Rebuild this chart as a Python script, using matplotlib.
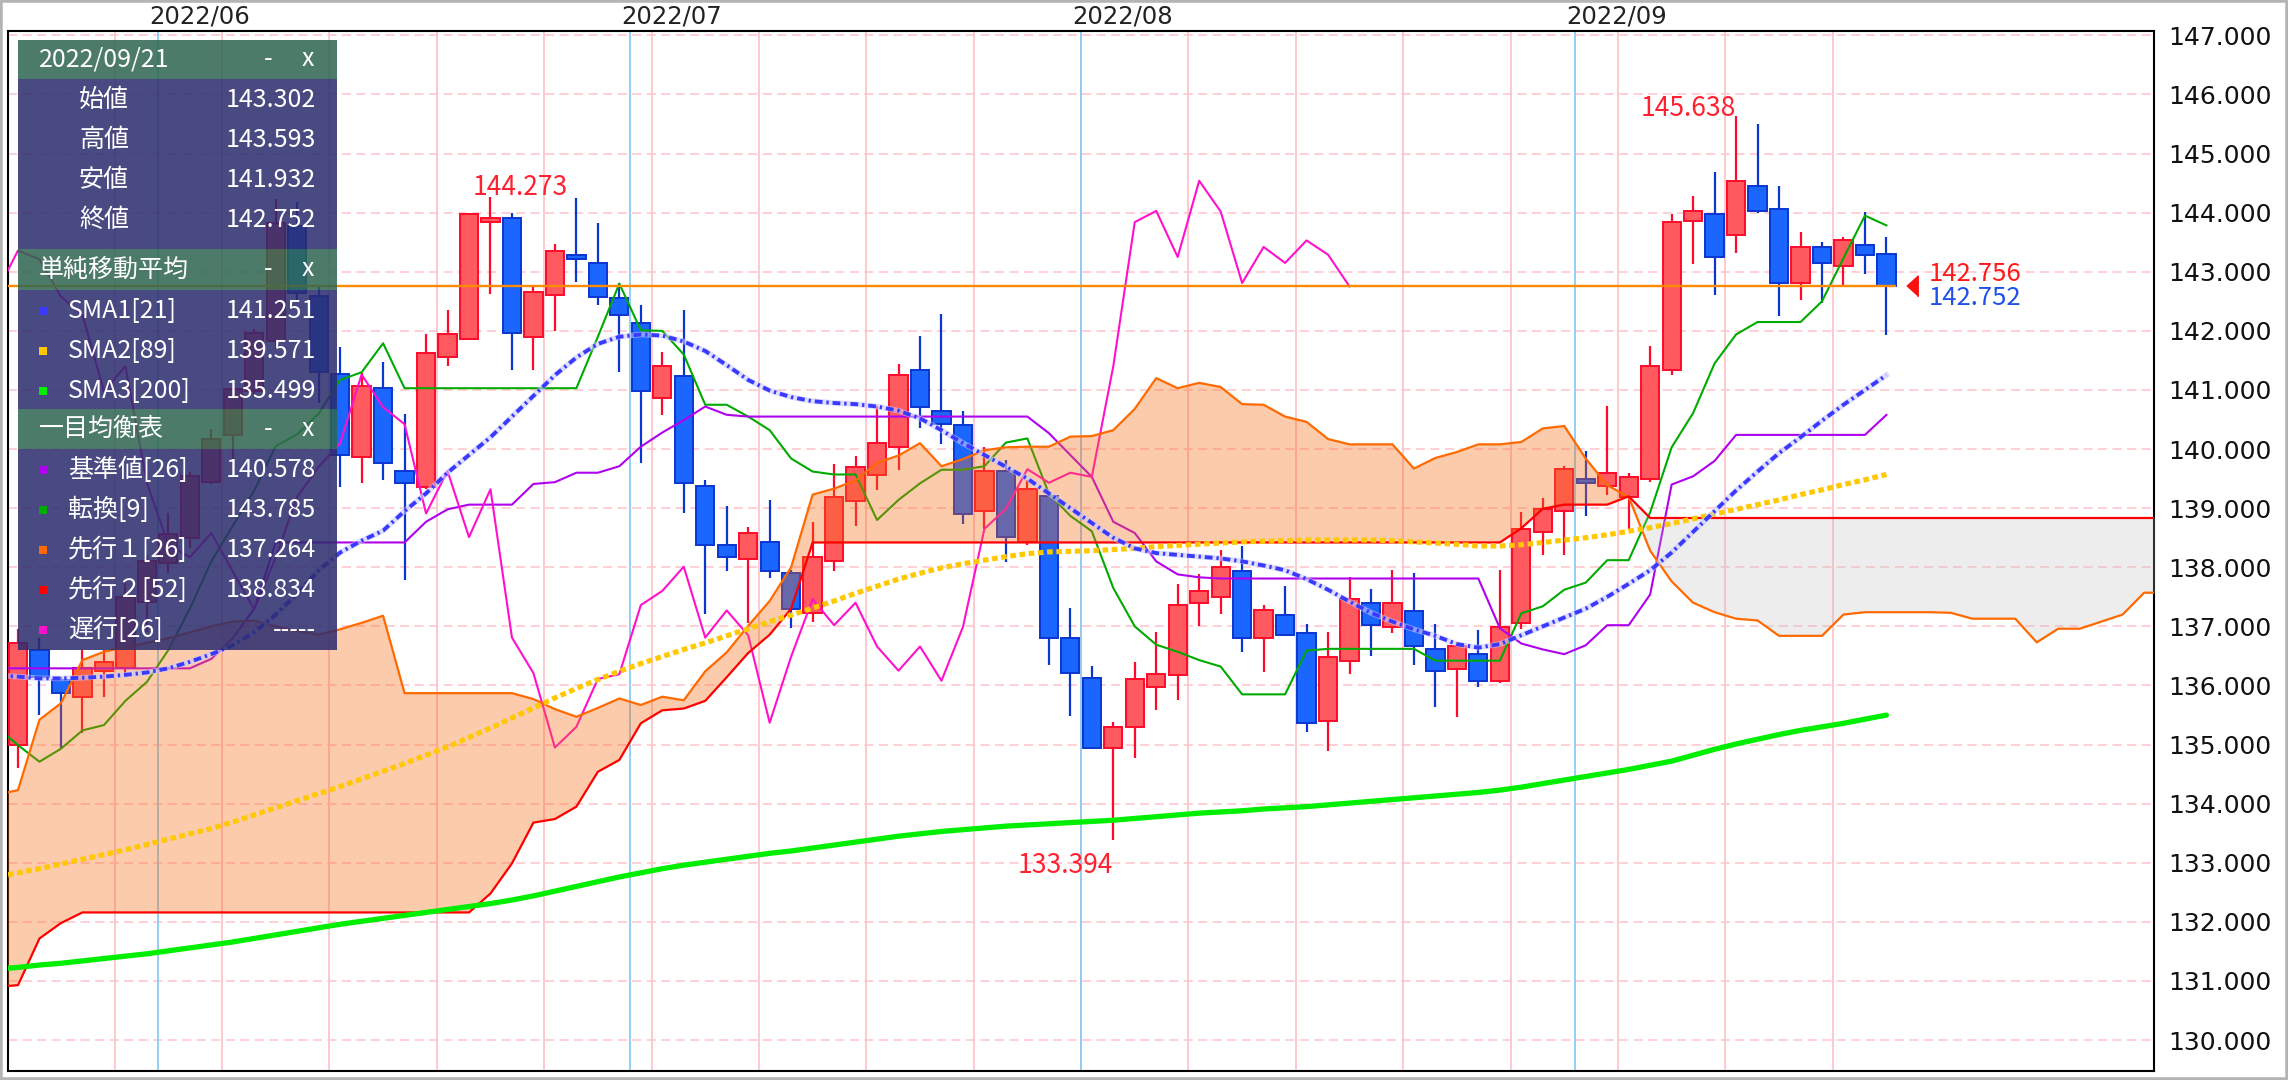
import matplotlib.pyplot as plt
import matplotlib.transforms as mtransforms
from matplotlib.patches import Rectangle
import numpy as np
import pandas as pd

plt.rcParams['font.family'] = ['Noto Sans CJK JP', 'DejaVu Sans']

# ---- daily candles, 2022/05/23 .. 2022/09/21 ----
dates = pd.bdate_range('2022-05-23', periods=88)
opens = [135.00, 136.60, 136.09, 135.81, 136.25, 136.30, 137.41, 138.07, 138.49, 139.44,
         140.23, 140.99, 141.83, 143.77, 142.59, 141.27, 139.87, 141.03, 139.63, 139.36,
         141.56, 141.87, 143.85, 143.91, 141.90, 142.61, 143.29, 143.15, 142.55, 142.14,
         140.86, 141.23, 139.37, 138.38, 138.14, 138.42, 137.91, 137.22, 138.10, 139.12,
         139.56, 140.03, 141.33, 140.64, 140.41, 138.95, 139.63, 138.42, 139.20, 136.80,
         136.12, 134.95, 135.29, 135.97, 136.18, 137.39, 137.49, 137.94, 136.81, 137.20,
         136.89, 135.40, 136.41, 137.40, 136.99, 137.26, 136.62, 136.28, 136.53, 136.08,
         137.06, 138.59, 138.95, 139.49, 139.37, 139.19, 139.50, 141.34, 143.86, 143.97,
         143.62, 144.45, 144.06, 142.81, 143.42, 143.10, 143.46, 143.302]
highs = [136.95, 136.80, 136.15, 136.60, 136.60, 137.75, 138.20, 138.92, 139.62, 140.34,
         141.05, 142.04, 144.23, 144.18, 142.74, 141.72, 141.28, 141.47, 140.60, 141.94,
         142.35, 144.00, 144.273, 143.99, 142.76, 143.47, 144.25, 143.83, 142.81, 142.43,
         141.64, 142.35, 139.48, 139.03, 138.69, 139.13, 137.95, 138.76, 139.74, 139.88,
         140.73, 141.44, 141.92, 142.29, 140.65, 140.04, 139.81, 139.47, 139.25, 137.31,
         136.33, 135.38, 136.39, 136.90, 137.71, 137.88, 138.29, 138.36, 137.37, 137.68,
         137.04, 136.90, 137.84, 137.64, 137.95, 137.91, 137.04, 136.73, 136.94, 137.95,
         138.93, 139.17, 139.71, 139.97, 140.73, 139.60, 141.74, 143.98, 144.28, 144.69,
         145.638, 145.50, 144.45, 143.67, 143.51, 143.59, 144.01, 143.593]
lows = [134.60, 135.50, 134.95, 135.19, 135.81, 136.20, 136.90, 137.90, 138.32, 139.41,
        139.62, 140.90, 141.70, 142.53, 140.78, 139.35, 139.42, 139.48, 137.79, 139.32,
        141.41, 141.85, 142.63, 141.34, 141.34, 141.99, 142.83, 142.43, 141.31, 139.76,
        140.57, 138.92, 137.21, 137.93, 137.05, 137.82, 136.98, 137.08, 137.93, 138.70,
        139.31, 139.65, 140.36, 140.09, 138.73, 138.65, 138.09, 138.37, 136.34, 135.49,
        134.93, 133.394, 134.78, 135.59, 135.75, 137.00, 137.21, 136.57, 136.23, 136.84,
        135.22, 134.89, 136.20, 136.50, 136.88, 136.34, 135.63, 135.46, 135.97, 136.04,
        136.95, 138.20, 138.20, 138.87, 139.22, 138.64, 139.45, 141.25, 143.14, 142.60,
        143.31, 143.99, 142.26, 142.53, 142.48, 142.77, 142.97, 141.932]
closes = [136.72, 136.15, 135.87, 136.29, 136.39, 137.50, 138.11, 138.56, 139.55, 140.17,
          141.02, 141.97, 143.83, 142.64, 141.30, 139.90, 141.07, 139.77, 139.43, 141.63,
          141.94, 143.97, 143.91, 141.96, 142.65, 143.36, 143.21, 142.58, 142.27, 140.98,
          141.40, 139.43, 138.38, 138.17, 138.58, 137.93, 137.29, 138.17, 139.19, 139.70,
          140.10, 141.26, 140.71, 140.42, 138.91, 139.63, 138.51, 139.32, 136.81, 136.21,
          134.95, 135.30, 136.11, 136.19, 137.36, 137.60, 138.01, 136.81, 137.27, 136.85,
          135.37, 136.49, 137.46, 137.02, 137.40, 136.66, 136.25, 136.66, 136.08, 136.99,
          138.65, 138.99, 139.66, 139.43, 139.60, 139.53, 141.40, 143.84, 144.03, 143.25,
          144.54, 144.02, 142.81, 143.42, 143.15, 143.53, 143.29, 142.752]

# ---- indicator lines, first value sits one bar left of the first candle ----
sma1 = [136.17, 136.15, 136.12, 136.12, 136.13, 136.15, 136.18, 136.22, 136.29, 136.40,
        136.53, 136.68, 136.90, 137.20, 137.55, 137.95, 138.25, 138.45, 138.62, 138.95,
        139.25, 139.60, 139.90, 140.20, 140.55, 140.90, 141.25, 141.55, 141.78, 141.90,
        141.94, 141.92, 141.82, 141.66, 141.42, 141.17, 140.99, 140.88, 140.81, 140.78,
        140.76, 140.72, 140.65, 140.52, 140.32, 140.10, 139.90, 139.70, 139.50, 139.25,
        139.00, 138.75, 138.50, 138.32, 138.24, 138.21, 138.18, 138.15, 138.10, 138.03,
        137.95, 137.80, 137.62, 137.42, 137.23, 137.08, 136.95, 136.84, 136.70, 136.64,
        136.70, 136.85, 137.00, 137.15, 137.30, 137.50, 137.72, 137.95, 138.25, 138.60,
        138.95, 139.30, 139.62, 139.93, 140.20, 140.48, 140.75, 141.00, 141.251]
sma2 = [132.76, 132.83, 132.90, 132.98, 133.06, 133.14, 133.22, 133.31, 133.40, 133.49,
        133.58, 133.69, 133.81, 133.93, 134.05, 134.17, 134.29, 134.42, 134.55, 134.68,
        134.82, 134.96, 135.12, 135.28, 135.45, 135.62, 135.79, 135.95, 136.10, 136.24,
        136.37, 136.49, 136.61, 136.72, 136.84, 136.96, 137.08, 137.19, 137.31, 137.43,
        137.56, 137.68, 137.80, 137.90, 137.99, 138.06, 138.12, 138.18, 138.23, 138.26,
        138.27, 138.28, 138.30, 138.32, 138.35, 138.37, 138.39, 138.41, 138.43, 138.44,
        138.45, 138.46, 138.46, 138.46, 138.46, 138.45, 138.43, 138.41, 138.39, 138.36,
        138.36, 138.38, 138.42, 138.46, 138.50, 138.55, 138.61, 138.67, 138.74, 138.82,
        138.90, 138.98, 139.06, 139.14, 139.23, 139.31, 139.40, 139.48, 139.571]
sma3 = [131.20, 131.23, 131.27, 131.30, 131.34, 131.38, 131.42, 131.46, 131.51, 131.56,
        131.61, 131.66, 131.72, 131.78, 131.84, 131.90, 131.96, 132.01, 132.06, 132.11,
        132.16, 132.21, 132.26, 132.31, 132.37, 132.44, 132.52, 132.60, 132.68, 132.76,
        132.83, 132.90, 132.96, 133.01, 133.06, 133.11, 133.16, 133.20, 133.25, 133.30,
        133.35, 133.40, 133.45, 133.49, 133.53, 133.56, 133.59, 133.62, 133.64, 133.66,
        133.68, 133.70, 133.72, 133.75, 133.78, 133.81, 133.84, 133.86, 133.88, 133.91,
        133.93, 133.95, 133.98, 134.01, 134.04, 134.07, 134.10, 134.13, 134.16, 134.19,
        134.23, 134.28, 134.34, 134.40, 134.46, 134.52, 134.58, 134.65, 134.72, 134.82,
        134.92, 135.01, 135.09, 135.17, 135.24, 135.30, 135.36, 135.43, 135.499]
tenkan = [135.30, 134.99, 134.71, 134.93, 135.24, 135.33, 135.74, 136.06, 136.60, 137.30,
          138.10, 138.70, 139.30, 140.05, 140.25, 140.60, 141.17, 141.30, 141.79, 141.03,
          141.03, 141.03, 141.03, 141.03, 141.03, 141.03, 141.03, 141.03, 141.90, 142.80,
          142.01, 142.00, 141.60, 140.75, 140.75, 140.55, 140.32, 139.84, 139.62, 139.57,
          139.57, 138.80, 139.14, 139.42, 139.65, 139.65, 139.71, 140.11, 140.18, 139.25,
          138.87, 138.61, 137.65, 137.00, 136.69, 136.57, 136.43, 136.32, 135.85, 135.85,
          135.85, 136.59, 136.62, 136.62, 136.62, 136.62, 136.62, 136.42, 136.42, 136.42,
          136.42, 137.22, 137.34, 137.62, 137.74, 138.12, 138.12, 138.93, 140.03, 140.61,
          141.45, 141.94, 142.15, 142.15, 142.15, 142.50, 143.23, 143.95, 143.785]
kijun = [136.29, 136.29, 136.29, 136.29, 136.29, 136.29, 136.29, 136.29, 136.29, 136.29,
         136.45, 136.80, 137.30, 138.42, 138.42, 138.42, 138.42, 138.42, 138.42, 138.42,
         138.77, 138.98, 139.06, 139.06, 139.06, 139.41, 139.44, 139.60, 139.60, 139.71,
         140.04, 140.28, 140.49, 140.72, 140.58, 140.55, 140.55, 140.55, 140.55, 140.55,
         140.55, 140.55, 140.55, 140.55, 140.55, 140.55, 140.55, 140.55, 140.55, 140.27,
         139.90, 139.53, 138.77, 138.58, 138.10, 137.88, 137.83, 137.81, 137.81, 137.81,
         137.81, 137.81, 137.81, 137.81, 137.81, 137.81, 137.81, 137.81, 137.81, 137.81,
         136.97, 136.71, 136.61, 136.53, 136.68, 137.02, 137.02, 137.54, 139.40, 139.54,
         139.80, 140.24, 140.24, 140.24, 140.24, 140.24, 140.24, 140.24, 140.578]
# leading spans run 13 bars past the last candle
senkou_a = [134.15, 134.23, 135.42, 135.70, 136.43, 136.57, 136.65, 136.72, 136.80, 136.90,
            137.00, 137.08, 137.10, 137.00, 136.92, 136.86, 136.95, 137.06, 137.18, 135.87,
            135.87, 135.87, 135.87, 135.87, 135.87, 135.77, 135.60, 135.47, 135.62, 135.78,
            135.67, 135.81, 135.75, 136.24, 136.56, 137.01, 137.43, 138.00, 139.23, 139.33,
            139.47, 139.77, 139.89, 140.10, 139.71, 139.83, 139.98, 140.03, 140.04, 140.04,
            140.21, 140.22, 140.32, 140.68, 141.20, 141.03, 141.12, 141.05, 140.76, 140.75,
            140.55, 140.46, 140.17, 140.08, 140.08, 140.08, 139.67, 139.85, 139.95, 140.08,
            140.08, 140.12, 140.35, 140.39, 139.84, 139.39, 139.19, 138.28, 137.76, 137.40,
            137.24, 137.13, 137.10, 136.84, 136.84, 136.84, 137.20, 137.24, 137.24, 137.24,
            137.24, 137.23, 137.13, 137.13, 137.13, 136.73, 136.96, 136.96, 137.08, 137.20,
            137.57, 137.57]
senkou_b = ([130.90, 130.93, 131.72, 131.98] + [132.16] * 19 +
            [132.48, 132.99, 133.68, 133.74, 133.95, 134.54, 134.74, 135.36, 135.58, 135.61,
             135.74, 136.14, 136.55, 136.86, 137.30] + [138.42] * 33 +
            [138.66, 138.99, 139.06, 139.06, 139.06, 139.20] + [138.834] * 25)
chikou_shift = 25
last_price = 142.756

y_ticks = list(range(130, 148))
y_labels = ['%.3f' % v for v in y_ticks]

legend_date = '2022/09/21'
ohlc_names = ['始値', '高値', '安値', '終値']
ohlc_texts = ['143.302', '143.593', '141.932', '142.752']
sma_names = ['SMA1[21]', 'SMA2[89]', 'SMA3[200]']
sma_texts = ['141.251', '139.571', '135.499']
ichi_names = ['基準値[26]', '転換[9]', '先行１[26]', '先行２[52]', '遅行[26]']
ichi_texts = ['140.578', '143.785', '137.264', '138.834', '-----']

c_sma1, c_sma2, c_sma3 = '#3a3aff', '#ffc800', '#00ee00'
c_kijun, c_tenkan, c_spa, c_spb, c_chikou = '#b000f0', '#00aa00', '#ff6a00', '#ff0000', '#ff10cc'

W, H = 2288, 1080
fig = plt.figure(figsize=(W / 100, H / 100), dpi=100)
ax = fig.add_axes([8 / W, 9 / H, 2146 / W, 1040 / H])
ax.set_xlim(-0.466, 99.46)
ax.set_ylim(129.477, 147.074)

n = len(closes)
x = np.arange(n)
line_x = lambda s: np.arange(len(s)) - 1

# grid
for v in y_ticks:
    ax.axhline(v, color='#ffc4cc', lw=1.1, ls=(0, (6, 3.5)), zorder=1)
mondays = [i - 0.5 for i, d in enumerate(dates) if d.weekday() == 0 and i > 0]
firsts = [i - 0.5 for i in range(1, n) if dates[i].month != dates[i - 1].month]
for m in mondays:
    ax.axvline(m, color='#ffc4cc', lw=1.3, zorder=1)
for m in firsts:
    ax.axvline(m, color='#8ccbf5', lw=1.3, zorder=1.5)
trans = mtransforms.blended_transform_factory(ax.transData, ax.transAxes)
for m in firsts:
    lab = dates[int(m + 0.5)].strftime('%Y/%m')
    ax.text(m - 0.4, 1.0135, lab, transform=trans, ha='left', va='center',
            fontsize=17.5, family='DejaVu Sans', color='#222222')

# candles
o, h, l, c = map(np.array, (opens, highs, lows, closes))
up = c >= o
edge = np.where(up, '#ff0a2a', '#0a36d0')
fill = np.where(up, '#ff5a5f', '#1a66ff')
ax.vlines(x, l, h, colors=edge, lw=1.6, zorder=3)
body = np.maximum(np.abs(c - o), 0.05)
ax.bar(x, body, bottom=np.minimum(o, c), width=0.85, color=fill, edgecolor=edge,
       linewidth=1.4, zorder=4)

# thin ichimoku lines (under the cloud tint)
ax.plot(line_x(tenkan), tenkan, color=c_tenkan, lw=1.5, zorder=5)
ax.plot(line_x(kijun), kijun, color=c_kijun, lw=1.5, zorder=5)
ck = closes[chikou_shift - 1:]
ax.plot(np.arange(len(ck)) - 1, ck, color=c_chikou, lw=1.5, zorder=5)

# cloud
sx = line_x(senkou_a)
sa, sb = np.array(senkou_a), np.array(senkou_b)
ax.fill_between(sx, sa, sb, where=sa >= sb, interpolate=True, color='#f96a12',
                alpha=0.35, lw=0, zorder=6)
ax.fill_between(sx, sa, sb, where=sa < sb, interpolate=True, color='#bbbbbb',
                alpha=0.25, lw=0, zorder=6)
ax.plot(sx, sa, color=c_spa, lw=1.6, zorder=7)
ax.plot(sx, sb, color=c_spb, lw=1.6, zorder=7)

# moving averages
ax.plot(line_x(sma3), sma3, color=c_sma3, lw=3.8, zorder=8, solid_capstyle='round')
ax.plot(line_x(sma2), sma2, color=c_sma2, lw=3.7, ls=(0, (1.1, 0.7)), zorder=8)
ax.plot(line_x(sma1), sma1, color='#c8c8ff', lw=4.0, alpha=0.6, zorder=8)
ax.plot(line_x(sma1), sma1, color=c_sma1, lw=2.8, ls=(0, (2.0, 1.0, 0.6, 1.0)), zorder=8)

# current price
ax.hlines(last_price, -0.5, n - 0.56, color='#ff8c00', lw=1.7, zorder=9)
ax.plot([n + 0.2], [last_price], marker=[(-0.55, 0), (0.55, 1), (0.55, -1)],
        markersize=15, color='#ff1010', zorder=9, clip_on=False)
ax.annotate('%.3f' % last_price, (n + 0.98, last_price), xytext=(0, 8.5),
            textcoords='offset points', ha='left', va='center', fontsize=18.5,
            color='#ff1a1a', zorder=9)
ax.annotate('%.3f' % closes[-1], (n + 0.98, last_price), xytext=(0, -8.5),
            textcoords='offset points', ha='left', va='center', fontsize=18.5,
            color='#2050e8', zorder=9)

# high / low marks
hi1 = int(np.argmax(h[:40]))
hi2 = int(np.argmax(h))
lo = int(np.argmin(l))
ax.annotate('%.3f' % h[hi1], (hi1, h[hi1]), xytext=(-13, 1), textcoords='offset points',
            ha='left', va='baseline', fontsize=19, color='#ff2030', zorder=9)
ax.annotate('%.3f' % h[hi2], (hi2, h[hi2]), xytext=(0, 0), textcoords='offset points',
            ha='right', va='baseline', fontsize=19, color='#ff2030', zorder=9)
ax.annotate('%.3f' % l[lo], (lo, l[lo]), xytext=(0, -24), textcoords='offset points',
            ha='right', va='baseline', fontsize=19, color='#ff2030', zorder=9)

# axes styling
ax.set_xticks([])
ax.yaxis.tick_right()
ax.set_yticks(y_ticks)
ax.set_yticklabels(y_labels, family='DejaVu Sans', fontsize=18)
ax.tick_params(axis='y', length=0, pad=10, colors='#111111')
for s in ax.spines.values():
    s.set_linewidth(1.5)
    s.set_color('black')

# ---- info panel ----
lax = fig.add_axes([18 / W, (H - 650) / H, 319 / W, 610 / H], zorder=10)
lax.set_xlim(0, 319)
lax.set_ylim(610, 0)
lax.axis('off')
head_col, body_col, panel_alpha = '#2f6650', '#2c2c6e', 0.86
sections = [(0, 39, legend_date, 170, None, ohlc_names, ohlc_texts),
            (209, 41, '単純移動平均', 119, [c_sma1, c_sma2, c_sma3], sma_names, sma_texts),
            (369, 40, '一目均衡表', 201, [c_kijun, c_tenkan, c_spa, c_spb, c_chikou],
             ichi_names, ichi_texts)]
fs = 18
for top, hh, title, bh, swatches, names, texts in sections:
    lax.add_patch(Rectangle((0, top), 319, hh, color=head_col, alpha=panel_alpha, lw=0))
    lax.add_patch(Rectangle((0, top + hh), 319, bh, color=body_col, alpha=panel_alpha, lw=0))
    yc = top + hh / 2
    lax.text(21, yc, title, color='white', fontsize=fs, va='center', ha='left')
    lax.text(250, yc, '-', color='white', fontsize=fs, va='center', ha='center')
    lax.text(290, yc, 'x', color='white', fontsize=fs, va='center', ha='center')
    for k, (nm, tx) in enumerate(zip(names, texts)):
        ry = top + hh + 21 + 40 * k
        if swatches is None:
            lax.text(61, ry, nm, color='white', fontsize=fs, va='center', ha='left')
        else:
            lax.add_patch(Rectangle((21, ry - 4), 8, 8, color=swatches[k], lw=0))
            lax.text(50, ry, nm, color='white', fontsize=fs, va='center', ha='left')
        lax.text(298, ry, tx, color='white', fontsize=fs, va='center', ha='right')

fig.patches.append(Rectangle((0, 0), 1, 1, transform=fig.transFigure, fill=False,
                             edgecolor='#b4b4b4', lw=4, zorder=20))

fig.savefig('out.png', dpi=100)
